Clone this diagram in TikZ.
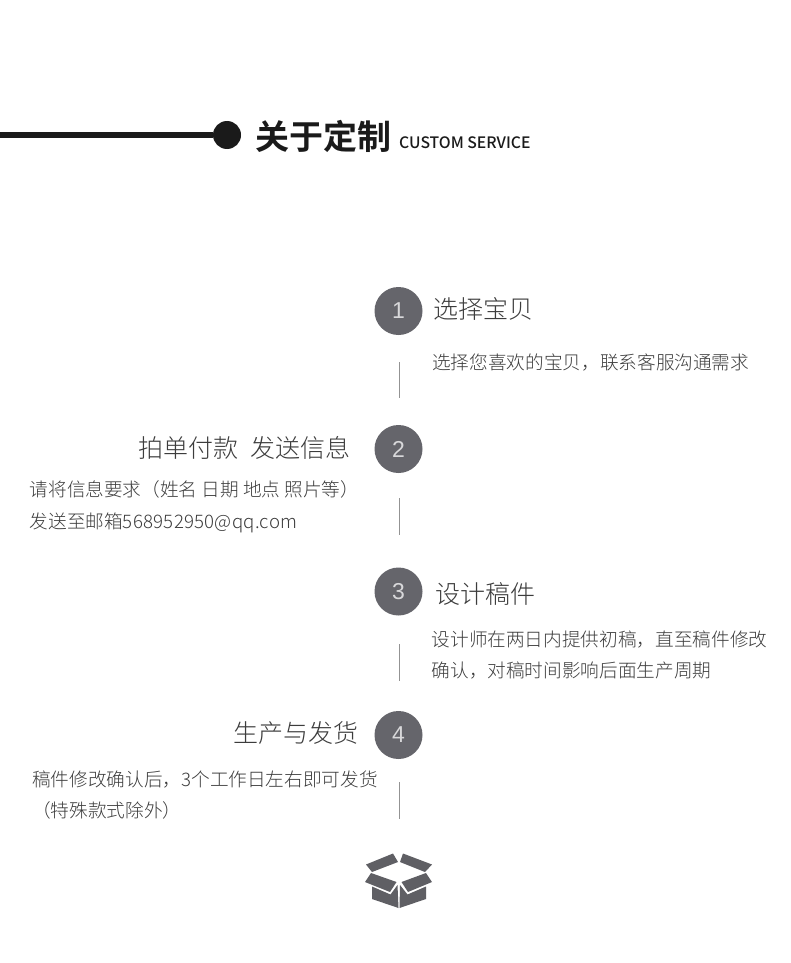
\documentclass[tikz,border=0pt]{standalone}
\usepackage{fontspec}
\setmainfont{Noto Sans CJK SC Light}
\newfontfamily\cjkb{Noto Sans CJK SC Bold}
\newfontfamily\cjkm{Noto Sans CJK SC Medium}
\newfontfamily\numf{Liberation Sans}
\definecolor{ink}{HTML}{1A1A1A}
\definecolor{badge}{HTML}{65656B}
\definecolor{txt}{HTML}{3C3C3C}
\definecolor{boxc}{HTML}{5F5F64}
\tikzset{x=1pt,y=-1pt,
  badgenode/.style={circle,fill=badge,minimum size=48pt,inner sep=0pt,text=white!75!badge,font=\numf\fontsize{23}{24}\selectfont},
  head/.style={inner sep=0pt,text=txt,font=\fontsize{25}{28}\selectfont},
  body/.style={inner sep=0pt,text=txt,font=\fontsize{18.65}{31.5}\selectfont,align=left},
  tick/.style={draw=gray!85,line width=1pt}
}
\begin{document}
\begin{tikzpicture}
\useasboundingbox (0,0) rectangle (790,963);
\fill[white] (0,0) rectangle (790,963);
% header
\coordinate (ls) at (0,135);
\node[circle,fill=ink,minimum size=28pt,inner sep=0pt] (dot) at (227,135) {};
\draw[ink,line width=6pt] (ls) -- (dot);
\node[anchor=west,inner sep=0pt,text=ink,font=\cjkb\fontsize{34}{36}\selectfont] (title) at (255,136) {关于定制};
\node[anchor=west,inner sep=0pt,text=ink,font=\cjkm\fontsize{15.75}{18}\selectfont] (sub) at (399,143) {CUSTOM SERVICE};
% steps
\node[badgenode] (n1) at (398.5,311) {1};
\node[badgenode] (n2) at (398.5,449) {2};
\node[badgenode] (n3) at (398.5,591.5) {3};
\node[badgenode] (n4) at (398.5,735) {4};
\coordinate (t1a) at (399,362); \coordinate (t1b) at (399,398);
\coordinate (t2a) at (399,498); \coordinate (t2b) at (399,535);
\coordinate (t3a) at (399,644); \coordinate (t3b) at (399,681);
\coordinate (t4a) at (399,782); \coordinate (t4b) at (399,819);
\draw[tick] (t1a) -- (t1b);
\draw[tick] (t2a) -- (t2b);
\draw[tick] (t3a) -- (t3b);
\draw[tick] (t4a) -- (t4b);
\node[head,anchor=west] (h1) at (433,309) {选择宝贝};
\node[body,anchor=west] (b1) at (432,362.5) {选择您喜欢的宝贝，联系客服沟通需求};
\node[head,anchor=east] (h2) at (351,447.5) {拍单付款\hspace{0.5em}发送信息};
\node[body,anchor=north west] (b2) at (29.5,480.5) {请将信息要求（姓名 日期 地点 照片等）\\发送至邮箱{\addfontfeature{LetterSpace=1.3}568952950@qq.com}};
\node[head,anchor=west] (h3) at (435,593.5) {设计稿件};
\node[body,anchor=north west] (b3) at (431.5,630.5) {设计师在两日内提供初稿，直至稿件修改\\确认，对稿时间影响后面生产周期};
\node[head,anchor=east] (h4) at (359,733.5) {生产与发货};
\node[body,anchor=north west] (b4) at (32,770.5) {稿件修改确认后，3个工作日左右即可发货\\（特殊款式除外）};
% box icon
\fill[boxc] (366,864.5) -- (393,853.5) -- (398,862) -- (372,872) -- cycle;
\fill[boxc] (432,864.5) -- (403,853.5) -- (400,862) -- (425,872) -- cycle;
\fill[boxc] (371,873) -- (396.5,882) -- (390,892) -- (365,882) -- cycle;
\fill[boxc] (426,873) -- (401.5,882) -- (408,892) -- (432,882) -- cycle;
\fill[boxc] (372,886.5) -- (390.5,894.5) -- (397.5,885) -- (398.5,908) -- (372,899) -- cycle;
\fill[boxc] (426,886.5) -- (407.5,894.5) -- (400,885) -- (399.5,908) -- (426,899) -- cycle;
\end{tikzpicture}
\end{document}
